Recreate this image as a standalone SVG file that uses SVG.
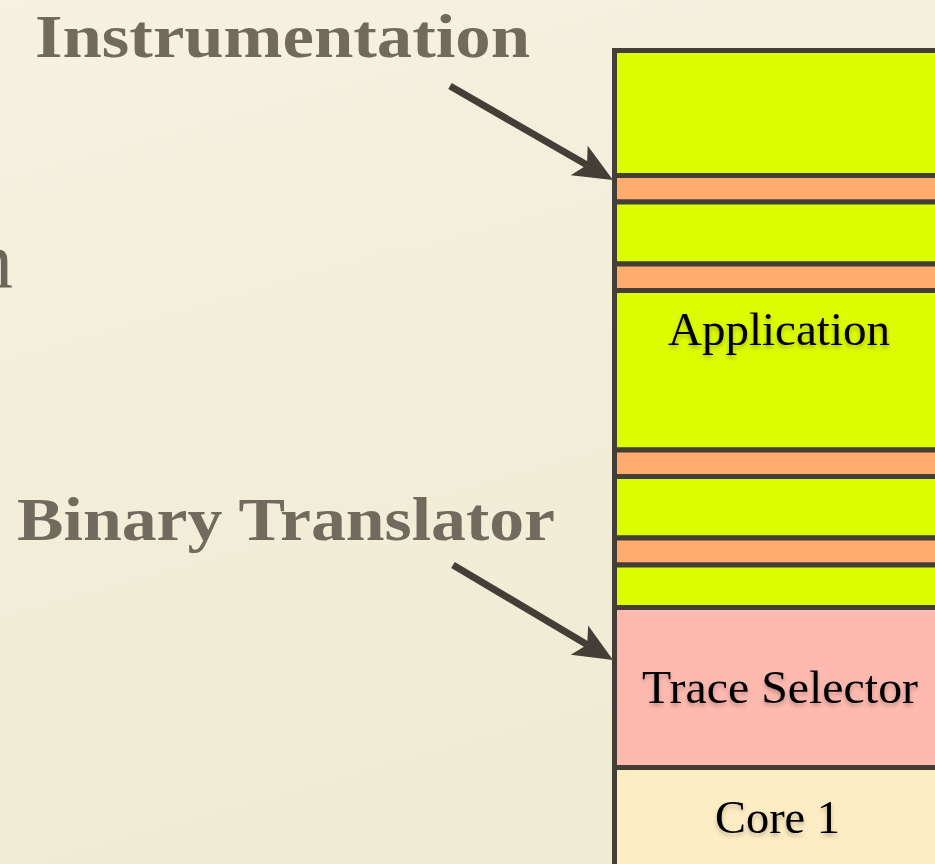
<svg xmlns="http://www.w3.org/2000/svg" width="935" height="864" viewBox="0 0 935 864">
  <defs>
    <linearGradient id="paper" x1="0" y1="0" x2="0.3" y2="1">
      <stop offset="0" stop-color="#f6f1e1"/>
      <stop offset="1" stop-color="#f0ebd3"/>
    </linearGradient>
    <filter id="soft" x="-10%" y="-20%" width="120%" height="150%">
      <feGaussianBlur in="SourceAlpha" stdDeviation="2"/>
      <feOffset dx="0" dy="3" result="b"/>
      <feFlood flood-color="#000" flood-opacity="0.25"/>
      <feComposite in2="b" operator="in"/>
      <feMerge><feMergeNode/><feMergeNode in="SourceGraphic"/></feMerge>
    </filter>
    <marker id="head" markerUnits="userSpaceOnUse" markerWidth="50" markerHeight="40" refX="0" refY="0" viewBox="-10 -20 50 40" orient="auto" overflow="visible">
      <path d="M30,0 L-9,-17 L0,0 L-9,17 Z" fill="#433f36"/>
    </marker>
    <style>
      .label { font-family: "Liberation Serif", "Times New Roman", serif; font-weight: bold; font-size: 62px; fill: #726b5d; }
      .title { font-family: "Liberation Serif", "Times New Roman", serif; font-size: 80px; fill: #6b6659; }
      .band { stroke: #433f36; stroke-width: 5; }
      .app { fill: #dcfd00; }
      .hook { fill: #ffac6e; }
      .trace { fill: #ffbab0; }
      .core { fill: #fdedc4; }
      .name { font-family: "Liberation Serif", "Times New Roman", serif; font-size: 46px; fill: #000; text-anchor: middle; filter: url(#soft); }
      .arrow { stroke: #433f36; stroke-width: 7; fill: none; marker-end: url(#head); }
    </style>
  </defs>

  <rect width="935" height="864" fill="url(#paper)"/>

  <!-- heading text running off the left edge -->
  <text class="title" x="-27" y="287">n</text>

  <g id="instrumentation-label">
    <text class="label" x="35" y="57" textLength="495" lengthAdjust="spacingAndGlyphs">Instrumentation</text>
  </g>
  <g id="translator-label">
    <text class="label" x="17" y="540" textLength="538" lengthAdjust="spacingAndGlyphs">Binary Translator</text>
  </g>

  <!-- layered stack -->
  <g id="application">
    <rect class="band app" x="614.5" y="50.5" width="400" height="125"/>
    <rect class="band hook" x="614.5" y="175.5" width="400" height="26.5"/>
    <rect class="band app" x="614.5" y="202" width="400" height="62"/>
    <rect class="band hook" x="614.5" y="264" width="400" height="26.5"/>
    <rect class="band app" x="614.5" y="290.5" width="400" height="159.5"/>
    <rect class="band hook" x="614.5" y="450" width="400" height="26.5"/>
    <rect class="band app" x="614.5" y="476.5" width="400" height="61.5"/>
    <rect class="band hook" x="614.5" y="538" width="400" height="27"/>
    <rect class="band app" x="614.5" y="565" width="400" height="42.5"/>
    <text class="name" x="779" y="345" textLength="222" lengthAdjust="spacingAndGlyphs">Application</text>
  </g>
  <g id="trace-selector">
    <rect class="band trace" x="614.5" y="607.5" width="400" height="160"/>
    <text class="name" x="780" y="703" textLength="276" lengthAdjust="spacingAndGlyphs">Trace Selector</text>
  </g>
  <g id="core-1">
    <rect class="band core" x="614.5" y="767.5" width="400" height="100"/>
    <text class="name" x="777.5" y="833" textLength="125" lengthAdjust="spacingAndGlyphs">Core 1</text>
  </g>

  <g id="connectors">
    <line class="arrow" x1="450" y1="86" x2="587" y2="165"/>
    <line class="arrow" x1="453" y1="565" x2="587.2" y2="644.7"/>
  </g>
</svg>
